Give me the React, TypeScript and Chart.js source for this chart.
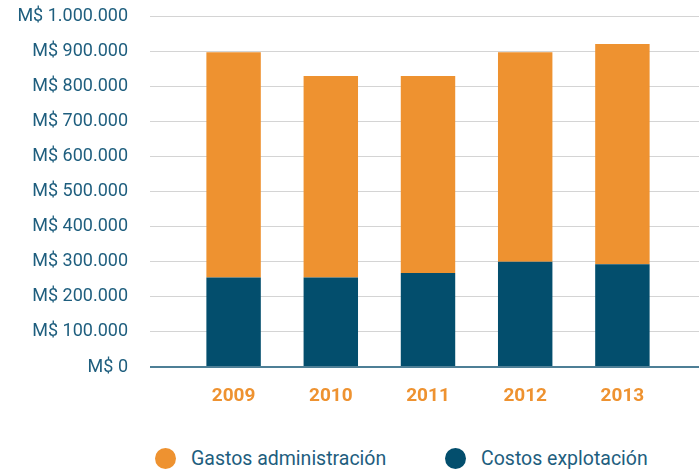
import React, { useEffect, useRef } from "react";
import { Chart, registerables } from "chart.js";

Chart.register(...registerables);

const years = ["2009", "2010", "2011", "2012", "2013"];
const costosExplotacion = [255000, 255000, 268000, 300000, 293000];
const gastosAdministracion = [642000, 574000, 561000, 597000, 627000];
const seriesNames = ["Gastos administración", "Costos explotación"];

const ORANGE = "#EE9230";
const NAVY = "#034E6D";
const TEXT = "#1E5E7E";
const GRID = "#D4D4D4";
const AXIS = "#4E7F96";

const fmt = (v: number) => "M$ " + String(v).replace(/\B(?=(\d{3})+(?!\d))/g, ".");

export default function App() {
  const ref = useRef<HTMLCanvasElement | null>(null);

  useEffect(() => {
    if (!ref.current) return;
    const gridColor = (ctx: any) => (ctx.tick && ctx.tick.value === 0 ? AXIS : GRID);
    const gridWidth = (ctx: any) => (ctx.tick && ctx.tick.value === 0 ? 2 : 1);
    const chart = new Chart(ref.current, {
      type: "bar",
      data: {
        labels: years,
        datasets: [
          {
            label: seriesNames[1],
            data: costosExplotacion,
            backgroundColor: NAVY,
            barPercentage: 0.56,
            categoryPercentage: 1,
          },
          {
            label: seriesNames[0],
            data: gastosAdministracion,
            backgroundColor: ORANGE,
            barPercentage: 0.56,
            categoryPercentage: 1,
          },
        ],
      },
      options: {
        animation: false,
        responsive: false,
        maintainAspectRatio: false,
        layout: { padding: { top: 16, left: 0, right: 0, bottom: 0 } },
        plugins: { legend: { display: false }, tooltip: { enabled: false } },
        scales: {
          x: {
            stacked: true,
            grid: { display: false },
            border: { display: false },
            ticks: {
              color: ORANGE,
              padding: 10,
              font: { family: "Roboto", size: 19, weight: "bold" },
            },
            afterFit: (s: any) => {
              s.height = 53;
            },
          },
          y: {
            stacked: true,
            position: "left",
            min: 0,
            max: 1000000,
            border: { display: false },
            grid: { color: gridColor, lineWidth: gridWidth, tickLength: 35 },
            ticks: {
              stepSize: 100000,
              color: TEXT,
              padding: 22,
              font: { family: "Roboto", size: 18 },
              callback: (v: any) => fmt(Number(v)),
            },
            afterFit: (s: any) => {
              s.width = 185;
              s.paddingTop = 0;
              s.paddingBottom = 0;
            },
          },
          y2: {
            position: "right",
            min: 0,
            max: 1000000,
            border: { display: false },
            grid: { color: gridColor, lineWidth: gridWidth, tickLength: 28, drawOnChartArea: false },
            ticks: { stepSize: 100000, display: false },
            afterFit: (s: any) => {
              s.width = 28;
              s.paddingTop = 0;
              s.paddingBottom = 0;
            },
          },
        },
      },
    });
    return () => chart.destroy();
  }, []);

  const legendItem = (left: number, color: string, label: string) => (
    <div
      style={{
        position: "absolute",
        left,
        top: 447,
        height: 22,
        display: "flex",
        alignItems: "center",
        fontFamily: "Roboto",
        fontSize: 19.5,
        color: TEXT,
        whiteSpace: "nowrap",
      }}
    >
      <span
        style={{
          display: "inline-block",
          width: 21,
          height: 21,
          borderRadius: "50%",
          background: color,
          marginRight: 15,
        }}
      />
      <span>{label}</span>
    </div>
  );

  return (
    <div style={{ position: "absolute", left: 0, top: 0, width: 699, height: 470, background: "#fff" }}>
      <canvas ref={ref} width={699} height={420} style={{ display: "block", width: 699, height: 420 }} />
      {legendItem(155, ORANGE, seriesNames[0])}
      {legendItem(445, NAVY, seriesNames[1])}
    </div>
  );
}
